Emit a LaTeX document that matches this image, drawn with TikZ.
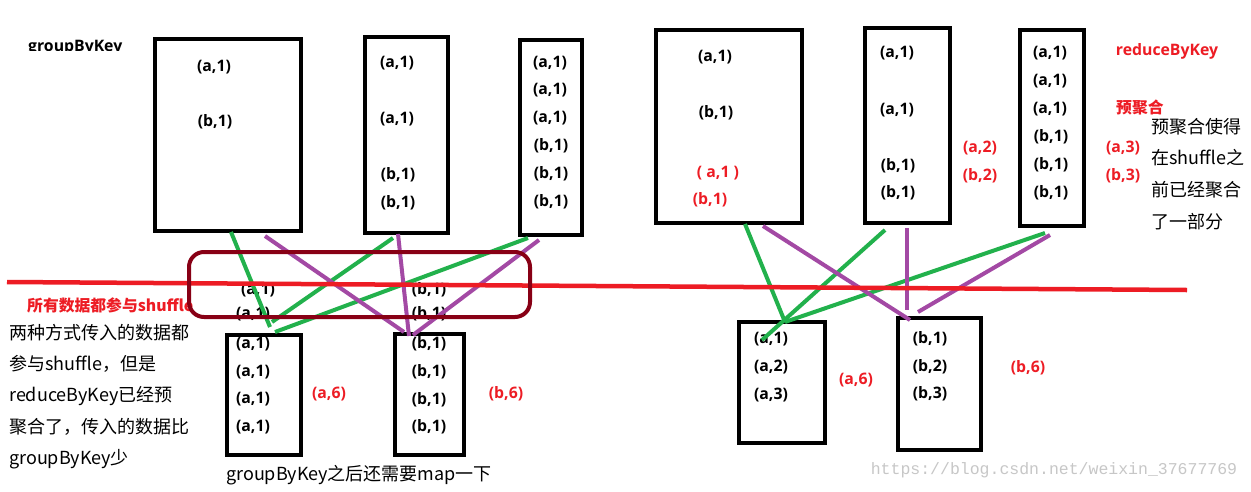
\documentclass[tikz,border=0pt]{standalone}
\usepackage{fontspec}
\setmainfont{Open Sans}
\newfontfamily\cjkf{Noto Sans CJK SC}
\newfontfamily\wmf{Liberation Mono}
\usetikzlibrary{fit}
\definecolor{pred}{HTML}{ED1C24}
\definecolor{pgreen}{HTML}{22B14C}
\definecolor{ppurple}{HTML}{A349A4}
\definecolor{pdark}{HTML}{880015}
\tikzset{
  box/.style={draw=black, line width=4.5pt, inner sep=0pt, outer sep=0pt},
  lab/.style={font=\fontsize{15.8}{18}\selectfont\bfseries, inner sep=0pt},
  rlab/.style={lab, text=pred},
  cjkt/.style={font=\cjkf\fontsize{18}{21}\selectfont, inner sep=0pt, anchor=west},
  rcjk/.style={font=\cjkf\fontsize{15.8}{18}\selectfont\bfseries, text=pred, inner sep=0pt, anchor=west},
  gline/.style={draw=pgreen, line width=4pt},
  pline/.style={draw=ppurple, line width=4pt},
  redline/.style={draw=pred, line width=4.5pt},
  shufbox/.style={draw=pdark, line width=4pt, rounded corners=15pt, inner sep=0pt},
  wmark/.style={font=\wmf\fontsize{16.5}{18}\selectfont, text=black!22, inner sep=0pt}
}
\begin{document}
\begin{tikzpicture}[x=1pt, y=-1pt]
\useasboundingbox (0,0) rectangle (1251,491);
\fill[white] (0,0) rectangle (1251,491);

% ---------- title (clipped, as in the reference) ----------
\begin{scope}
  \clip (0,0) rectangle (400,50.5);
  \node[lab, anchor=base west] (tgk) at (28,51) {groupByKey};
\end{scope}

% ---------- upper boxes ----------
\node[box, fit={(155,39) (301,231)}] (B1) {};
\node[box, fit={(365,37) (448,233)}] (B2) {};
\node[box, fit={(520,40) (582,235)}] (B3) {};
\node[box, fit={(656,30) (802,223)}] (B4) {};
\node[box, fit={(865,28) (950,223)}] (B5) {};
\node[box, fit={(1020,30) (1084,226)}] (B6) {};

% texts in upper boxes
\node[lab] (b1a) at (214,67) {(a,1)};
\node[lab] (b1b) at (215,122) {(b,1)};

\node[lab] (b2a) at (397,63) {(a,1)};
\node[lab] (b2b) at (397,119) {(a,1)};
\node[lab] (b2c) at (398,175) {(b,1)};
\node[lab] (b2d) at (398,203) {(b,1)};

\node[lab] (b3a) at (550,63) {(a,1)};
\node[lab] (b3b) at (550,90) {(a,1)};
\node[lab] (b3c) at (550,118) {(a,1)};
\node[lab] (b3d) at (551,146) {(b,1)};
\node[lab] (b3e) at (551,174) {(b,1)};
\node[lab] (b3f) at (551,202) {(b,1)};

\node[lab] (b4a) at (715,57) {(a,1)};
\node[lab] (b4b) at (716,113) {(b,1)};
\node[rlab] (b4c) at (718,173) {( a,1 )};
\node[rlab] (b4d) at (710,200) {(b,1)};

\node[lab] (b5a) at (897,53) {(a,1)};
\node[lab] (b5b) at (897,110) {(a,1)};
\node[lab] (b5c) at (898,166) {(b,1)};
\node[lab] (b5d) at (898,193) {(b,1)};
\node[rlab] (r5a) at (980,148) {(a,2)};
\node[rlab] (r5b) at (980,176) {(b,2)};

\node[lab] (b6a) at (1050,53) {(a,1)};
\node[lab] (b6b) at (1050,81) {(a,1)};
\node[lab] (b6c) at (1050,109) {(a,1)};
\node[lab] (b6d) at (1051,137) {(b,1)};
\node[lab] (b6e) at (1051,165) {(b,1)};
\node[lab] (b6f) at (1051,193) {(b,1)};
\node[rlab] (r6a) at (1123,148) {(a,3)};
\node[rlab] (r6b) at (1123,176) {(b,3)};

% right annotations
\node[rlab] (trbk) at (1167,51) {reduceByKey};
\node[rcjk] (tyjh) at (1116,107) {预聚合};
\node[cjkt] (n1) at (1151,127) {预聚合使得};
\node[cjkt] (n2) at (1151,158) {在shuffle之};
\node[cjkt] (n3) at (1151,190) {前已经聚合};
\node[cjkt] (n4) at (1151,222) {了一部分};

% ---------- lower left ----------
\node[box, fit={(227,335) (301,455)}] (BL) {};
\node[box, fit={(395,334) (464,455)}] (BR) {};

\node[lab] (la0) at (258,290) {(a,1)};
\node[lab] (la1) at (253,314) {(a,1)};
\node[lab] (la2) at (253,344) {(a,1)};
\node[lab] (la3) at (253,372) {(a,1)};
\node[lab] (la4) at (253,399) {(a,1)};
\node[lab] (la5) at (253,427) {(a,1)};

\node[lab] (lb0) at (429,290) {(b,1)};
\node[lab] (lb1) at (429,314) {(b,1)};
\node[lab] (lb2) at (429,344) {(b,1)};
\node[lab] (lb3) at (429,372) {(b,1)};
\node[lab] (lb4) at (429,400) {(b,1)};
\node[lab] (lb5) at (429,427) {(b,1)};

\node[rlab] (a6l) at (329,394) {(a,6)};
\node[rlab] (b6l) at (506,394) {(b,6)};

\node[cjkt] (cap) at (226,475) {groupByKey之后还需要map一下};

\node[rcjk] (allsh) at (27,305) {所有数据都参与shuffle};
\node[cjkt] (l1) at (9,333) {两种方式传入的数据都};
\node[cjkt] (l2) at (9,364) {参与shuffle，但是};
\node[cjkt] (l3) at (9,396) {reduceByKey已经预};
\node[cjkt] (l4) at (9,427) {聚合了，传入的数据比};
\node[cjkt] (l5) at (9,459) {groupByKey少};

% ---------- lower right ----------
\node[box, fit={(739,322) (825,443)}] (RL) {};
\node[box, fit={(898,318) (981,450)}] (RR) {};

\node[lab] (ra1) at (771,339) {(a,1)};
\node[lab] (ra2) at (771,367) {(a,2)};
\node[lab] (ra3) at (771,395) {(a,3)};
\node[lab] (rb1) at (930,339) {(b,1)};
\node[lab] (rb2) at (930,367) {(b,2)};
\node[lab] (rb3) at (930,394) {(b,3)};
\node[rlab] (a6r) at (856,380) {(a,6)};
\node[rlab] (b6r) at (1028,368) {(b,6)};

% watermark
\node[wmark] (wm) at (1054,470) {https://blog.csdn.net/weixin\_37677769};

% ---------- connector end points ----------
\coordinate (g1s) at (231,232);  \coordinate (g1e) at (270,327);
\coordinate (p1s) at (265,236);  \coordinate (p1e) at (404,332);
\coordinate (g2s) at (393,238);  \coordinate (g2e) at (272,322);
\coordinate (p2s) at (398,234);  \coordinate (p2e) at (409,336);
\coordinate (g3s) at (528,238);  \coordinate (g3e) at (275,332);
\coordinate (p3s) at (539,240);  \coordinate (p3e) at (413,335);

\coordinate (g4s) at (745,224);  \coordinate (g4e) at (785,322);
\coordinate (p4s) at (763,226);  \coordinate (p4e) at (910,320);
\coordinate (g5s) at (885,230);  \coordinate (g5e) at (762,340);
\coordinate (p5s) at (907,228);  \coordinate (p5e) at (907,310);
\coordinate (g6s) at (1045,233); \coordinate (g6e) at (785,322);
\coordinate (p6s) at (1050,235); \coordinate (p6e) at (918,312);

\coordinate (rls) at (7,282);    \coordinate (rle) at (1187,290);

% ---------- connectors ----------
\draw[gline] (g1s) -- (g1e);
\draw[gline] (g2s) -- (g2e);
\draw[gline] (g3s) -- (g3e);
\draw[pline] (p1s) -- (p1e);
\draw[pline] (p2s) -- (p2e);
\draw[pline] (p3s) -- (p3e);

\draw[gline] (g4s) -- (g4e);
\draw[gline] (g5s) -- (g5e);
\draw[gline] (g6s) -- (g6e);
\draw[pline] (p4s) -- (p4e);
\draw[pline] (p5s) -- (p5e);
\draw[pline] (p6s) -- (p6e);

% shuffle line
\draw[redline] (rls) -- (rle);

% shuffle highlight
\node[shufbox, fit={(189,252) (530,317)}] (SH) {};
\end{tikzpicture}
\end{document}
